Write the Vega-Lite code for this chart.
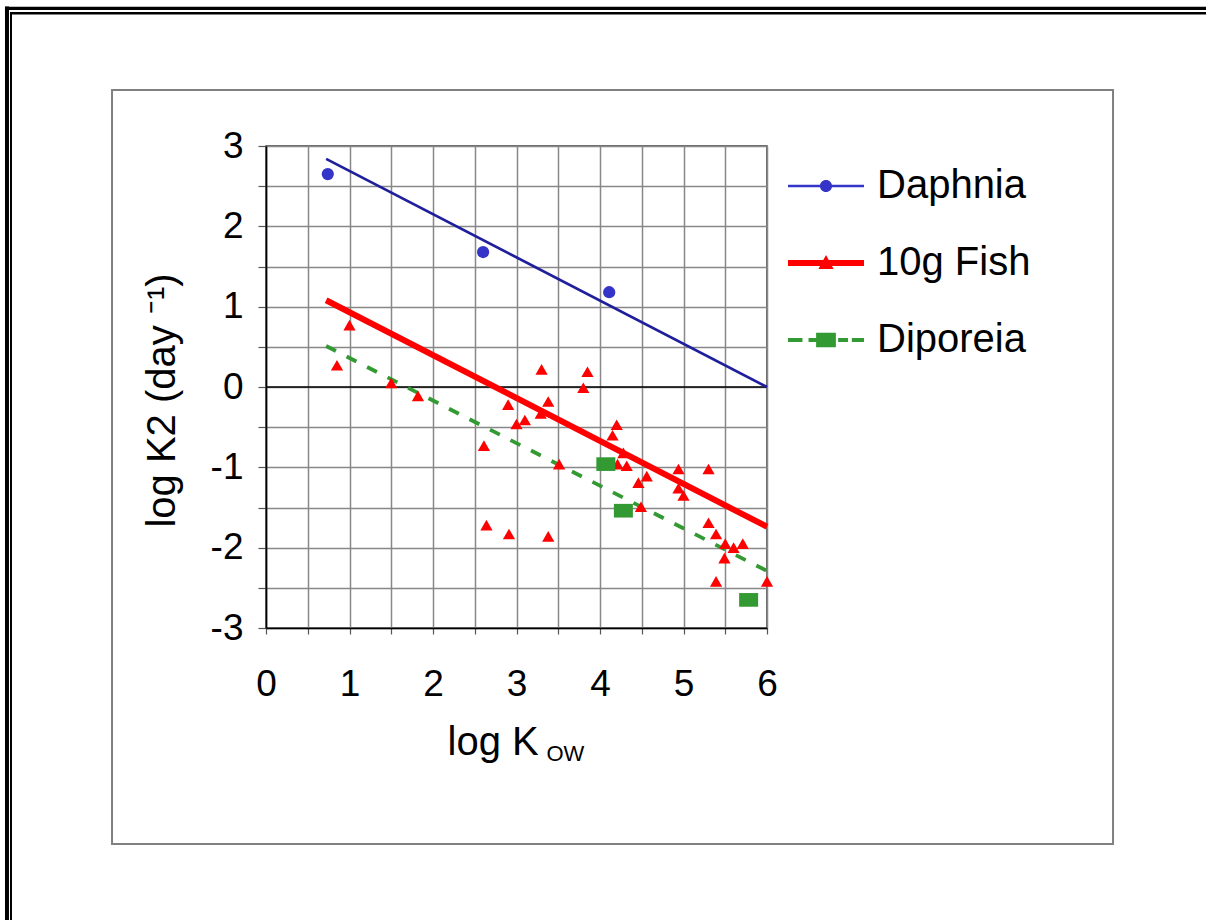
{
  "$schema": "https://vega.github.io/schema/vega-lite/v6.json",
  "width": 501,
  "height": 482,
  "autosize": {"type": "none"},
  "padding": {"left": 266, "top": 146, "right": 439, "bottom": 292},
  "background": "white",
  "config": {
    "font": "Liberation Sans",
    "view": {"stroke": "#3a3a3a", "strokeWidth": 1.5}
  },
  "datasets": {
    "measured": [
      {"series": "Daphnia", "logKow": 0.74, "logK2": 2.65},
      {"series": "Daphnia", "logKow": 2.6, "logK2": 1.68},
      {"series": "Daphnia", "logKow": 4.11, "logK2": 1.18},
      {"series": "10g Fish", "logKow": 0.85, "logK2": 0.27},
      {"series": "10g Fish", "logKow": 1.0, "logK2": 0.77},
      {"series": "10g Fish", "logKow": 1.5, "logK2": 0.05},
      {"series": "10g Fish", "logKow": 1.82, "logK2": -0.11},
      {"series": "10g Fish", "logKow": 2.61, "logK2": -0.73},
      {"series": "10g Fish", "logKow": 2.64, "logK2": -1.72},
      {"series": "10g Fish", "logKow": 2.9, "logK2": -0.22},
      {"series": "10g Fish", "logKow": 2.91, "logK2": -1.83},
      {"series": "10g Fish", "logKow": 3.0, "logK2": -0.46},
      {"series": "10g Fish", "logKow": 3.1, "logK2": -0.41},
      {"series": "10g Fish", "logKow": 3.3, "logK2": 0.22},
      {"series": "10g Fish", "logKow": 3.29, "logK2": -0.33},
      {"series": "10g Fish", "logKow": 3.38, "logK2": -0.18},
      {"series": "10g Fish", "logKow": 3.38, "logK2": -1.86},
      {"series": "10g Fish", "logKow": 3.51, "logK2": -0.96},
      {"series": "10g Fish", "logKow": 3.8, "logK2": -0.01},
      {"series": "10g Fish", "logKow": 3.85, "logK2": 0.19},
      {"series": "10g Fish", "logKow": 4.15, "logK2": -0.6},
      {"series": "10g Fish", "logKow": 4.2, "logK2": -0.47},
      {"series": "10g Fish", "logKow": 4.21, "logK2": -0.96},
      {"series": "10g Fish", "logKow": 4.28, "logK2": -0.82},
      {"series": "10g Fish", "logKow": 4.32, "logK2": -0.98},
      {"series": "10g Fish", "logKow": 4.46, "logK2": -1.19},
      {"series": "10g Fish", "logKow": 4.49, "logK2": -1.49},
      {"series": "10g Fish", "logKow": 4.56, "logK2": -1.11},
      {"series": "10g Fish", "logKow": 4.94, "logK2": -1.02},
      {"series": "10g Fish", "logKow": 4.94, "logK2": -1.26},
      {"series": "10g Fish", "logKow": 5.0, "logK2": -1.35},
      {"series": "10g Fish", "logKow": 5.3, "logK2": -1.02},
      {"series": "10g Fish", "logKow": 5.3, "logK2": -1.69},
      {"series": "10g Fish", "logKow": 5.39, "logK2": -1.83},
      {"series": "10g Fish", "logKow": 5.39, "logK2": -2.42},
      {"series": "10g Fish", "logKow": 5.49, "logK2": -2.13},
      {"series": "10g Fish", "logKow": 5.5, "logK2": -1.95},
      {"series": "10g Fish", "logKow": 5.6, "logK2": -2.0},
      {"series": "10g Fish", "logKow": 5.71, "logK2": -1.95},
      {"series": "10g Fish", "logKow": 6.0, "logK2": -2.42},
      {"series": "Diporeia", "logKow": 4.07, "logK2": -0.96},
      {"series": "Diporeia", "logKow": 4.28, "logK2": -1.54},
      {"series": "Diporeia", "logKow": 5.78, "logK2": -2.65}
    ],
    "fits": [
      {"series": "Daphnia", "logKow": 0.72, "logK2": 2.84},
      {"series": "Daphnia", "logKow": 6.0, "logK2": 0.0},
      {"series": "10g Fish", "logKow": 0.72, "logK2": 1.08},
      {"series": "10g Fish", "logKow": 6.0, "logK2": -1.74},
      {"series": "Diporeia", "logKow": 0.72, "logK2": 0.51},
      {"series": "Diporeia", "logKow": 6.0, "logK2": -2.29}
    ]
  },
  "resolve": {"axis": {"x": "independent", "y": "independent"}},
  "layer": [
    {
      "description": "chart area frame",
      "data": {"values": [{}]},
      "mark": {"type": "rect", "filled": false, "stroke": "#808080", "strokeWidth": 2},
      "encoding": {
        "x": {"datum": -1.844, "type": "quantitative", "axis": null},
        "x2": {"datum": 10.144},
        "y": {"datum": 3.697, "type": "quantitative", "axis": null},
        "y2": {"datum": -5.689}
      }
    },
    {
      "description": "page rule, top outer",
      "data": {"values": [{}]},
      "mark": {"type": "rule", "color": "#000", "strokeWidth": 3.3},
      "encoding": {
        "x": {"datum": -3.126, "type": "quantitative", "axis": null},
        "x2": {"datum": 11.4},
        "y": {"datum": 4.714, "type": "quantitative", "axis": null}
      }
    },
    {
      "description": "page rule, top inner",
      "data": {"values": [{}]},
      "mark": {"type": "rule", "color": "#000", "strokeWidth": 2.5},
      "encoding": {
        "x": {"datum": -3.066, "type": "quantitative", "axis": null},
        "x2": {"datum": 11.4},
        "y": {"datum": 4.652, "type": "quantitative", "axis": null}
      }
    },
    {
      "description": "page rule, left outer",
      "data": {"values": [{}]},
      "mark": {"type": "rule", "color": "#000", "strokeWidth": 4},
      "encoding": {
        "x": {"datum": -3.102, "type": "quantitative", "axis": null},
        "y": {"datum": 4.736, "type": "quantitative", "axis": null},
        "y2": {"datum": -6.8}
      }
    },
    {
      "description": "page rule, left inner",
      "data": {"values": [{}]},
      "mark": {"type": "rule", "color": "#000", "strokeWidth": 2},
      "encoding": {
        "x": {"datum": -3.054, "type": "quantitative", "axis": null},
        "y": {"datum": 4.668, "type": "quantitative", "axis": null},
        "y2": {"datum": -6.8}
      }
    },
    {
      "description": "horizontal axis line at zero",
      "data": {"values": [{}]},
      "mark": {"type": "rule", "color": "#000", "strokeWidth": 1.6},
      "encoding": {
        "x": {"datum": 0, "type": "quantitative", "axis": null},
        "x2": {"datum": 6},
        "y": {"datum": 0, "type": "quantitative", "axis": null}
      }
    },
    {
      "data": {"name": "fits"},
      "transform": [{"filter": "datum.series === 'Daphnia'"}],
      "mark": {"type": "line", "color": "#1f1f9c", "strokeWidth": 2.7},
      "encoding": {
        "x": {"field": "logKow", "type": "quantitative", "axis": null},
        "y": {"field": "logK2", "type": "quantitative", "axis": null}
      }
    },
    {
      "data": {"name": "fits"},
      "transform": [{"filter": "datum.series === '10g Fish'"}],
      "mark": {"type": "line", "color": "#ff0000", "strokeWidth": 6},
      "encoding": {
        "x": {
          "field": "logKow",
          "type": "quantitative",
          "axis": {
            "orient": "top",
            "title": "OW",
            "domain": false,
            "ticks": false,
            "labels": false,
            "grid": false,
            "titleFont": "Liberation Sans",
            "titleFontSize": 22,
            "titleFontWeight": "normal",
            "titleColor": "#000",
            "titleAlign": "left",
            "titleBaseline": "alphabetic",
            "titleAngle": 0,
            "titleX": 280,
            "titleY": 614
          }
        },
        "y": {"field": "logK2", "type": "quantitative", "axis": null}
      }
    },
    {
      "data": {"name": "fits"},
      "transform": [{"filter": "datum.series === 'Diporeia'"}],
      "mark": {"type": "line", "color": "#339933", "strokeWidth": 3.8, "strokeDash": [11, 12]},
      "encoding": {
        "x": {"field": "logKow", "type": "quantitative", "axis": null},
        "y": {"field": "logK2", "type": "quantitative", "axis": null}
      }
    },
    {
      "data": {"name": "measured"},
      "transform": [{"filter": "datum.series === '10g Fish'"}],
      "mark": {"type": "point", "shape": "triangle-up", "size": 150, "filled": true, "opacity": 1, "strokeWidth": 0, "color": "#ff0000"},
      "encoding": {
        "x": {"field": "logKow", "type": "quantitative", "axis": null},
        "y": {"field": "logK2", "type": "quantitative", "axis": null}
      }
    },
    {
      "data": {"name": "measured"},
      "transform": [{"filter": "datum.series === 'Diporeia'"}],
      "mark": {"type": "point", "shape": "M-1,-0.72H1V0.72H-1Z", "size": 361, "filled": true, "opacity": 1, "strokeWidth": 0, "color": "#339933"},
      "encoding": {
        "x": {"field": "logKow", "type": "quantitative", "axis": null},
        "y": {"field": "logK2", "type": "quantitative", "axis": null}
      }
    },
    {
      "data": {"name": "measured"},
      "transform": [{"filter": "datum.series === 'Daphnia'"}],
      "mark": {"type": "point", "shape": "circle", "size": 150, "filled": true, "opacity": 1, "strokeWidth": 0},
      "encoding": {
        "x": {
          "field": "logKow",
          "type": "quantitative",
          "scale": {"domain": [0, 6], "nice": false, "zero": false},
          "axis": {
            "orient": "bottom",
            "values": [0, 0.5, 1, 1.5, 2, 2.5, 3, 3.5, 4, 4.5, 5, 5.5, 6],
            "labelExpr": "datum.value % 1 === 0 ? '' + datum.value : ''",
            "labelOverlap": false,
            "labelFlush": false,
            "grid": true,
            "gridColor": "#888888",
            "gridWidth": 1.5,
            "domainColor": "#000",
            "domainWidth": 1.6,
            "tickColor": "#555",
            "tickSize": 6,
            "tickWidth": 1.2,
            "labelFont": "Liberation Sans",
            "labelFontSize": 37,
            "labelColor": "#000",
            "labelPadding": 32,
            "title": "log K",
            "titleFont": "Liberation Sans",
            "titleFontSize": 40,
            "titleFontWeight": "normal",
            "titleColor": "#000",
            "titleAlign": "left",
            "titleBaseline": "alphabetic",
            "titleX": 181,
            "titleY": 126
          }
        },
        "y": {
          "field": "logK2",
          "type": "quantitative",
          "scale": {"domain": [-3, 3], "nice": false, "zero": false},
          "axis": {
            "values": [-3, -2.5, -2, -1.5, -1, -0.5, 0, 0.5, 1, 1.5, 2, 2.5, 3],
            "labelExpr": "datum.value % 1 === 0 ? '' + datum.value : ''",
            "labelOverlap": false,
            "labelFlush": false,
            "grid": true,
            "gridColor": "#888888",
            "gridWidth": 1.5,
            "domainColor": "#000",
            "domainWidth": 1.6,
            "tickColor": "#555",
            "tickSize": 8,
            "tickWidth": 1.2,
            "labelFont": "Liberation Sans",
            "labelFontSize": 37,
            "labelColor": "#000",
            "labelPadding": 15,
            "title": "log K2 (day ⁻¹)",
            "titleFont": "Liberation Sans",
            "titleFontSize": 40,
            "titleFontWeight": "normal",
            "titleColor": "#000",
            "titleAngle": -90,
            "titleAlign": "center",
            "titleBaseline": "middle",
            "titleX": -104,
            "titleY": 254
          }
        },
        "color": {
          "field": "series",
          "type": "nominal",
          "scale": {
            "domain": ["Daphnia", "10g Fish", "Diporeia"],
            "range": ["#3434c8", "#ff0000", "#339933"]
          },
          "legend": {
            "orient": "none",
            "legendX": 522,
            "legendY": 2,
            "title": null,
            "padding": 0,
            "rowPadding": 19,
            "symbolSize": 5776,
            "symbolStrokeWidth": 0,
            "symbolOffset": 0,
            "labelOffset": 13,
            "labelFont": "Liberation Sans",
            "labelFontSize": 40,
            "labelColor": "#000",
            "labelLimit": 400,
            "symbolType": {
              "expr": "datum.value === 'Daphnia' ? 'M-1,-0.035H1V0.035H-1Z M-0.16,0A0.16,0.16 0 1 1 0.16,0A0.16,0.16 0 1 1 -0.16,0Z' : datum.value === '10g Fish' ? 'M-1,-0.08H1V0.08H-1Z M0,-0.21L0.2,0.16L-0.2,0.16Z' : 'M-1,-0.055H-0.62V0.055H-1Z M-0.46,-0.055H-0.26V0.055H-0.46Z M-0.26,-0.19H0.26V0.19H-0.26Z M0.32,-0.055H0.58V0.055H0.32Z M0.68,-0.055H1V0.055H0.68Z'"
            }
          }
        }
      }
    }
  ]
}
